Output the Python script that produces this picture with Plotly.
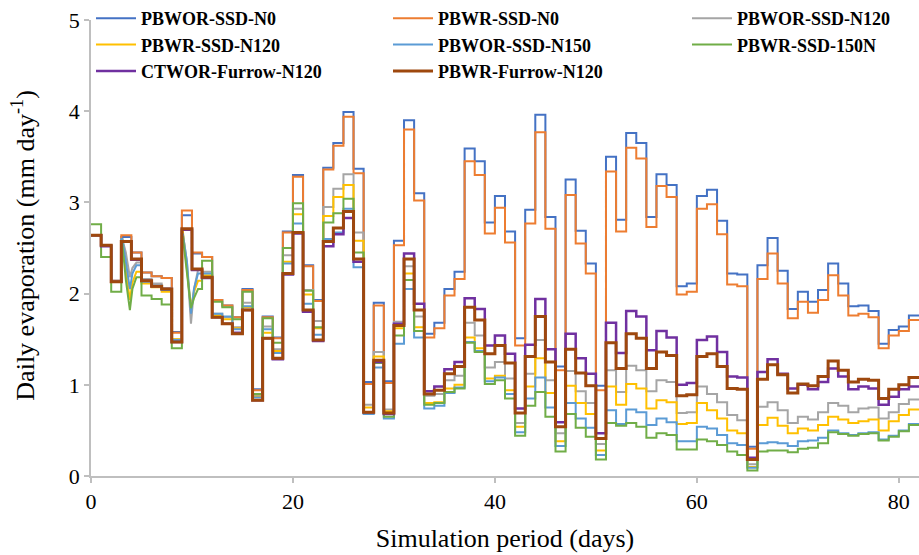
import plotly.graph_objects as go

# Simulated daily soil evaporation (mm day-1) for each treatment, day 0..81
DAYS = list(range(82))

PBWOR_SSD_N0 = [
    2.64, 2.53, 2.14, 2.62, 2.45, 2.23, 2.19, 2.17, 1.58, 2.86,
    2.44, 2.40, 1.93, 1.87, 1.74, 2.05, 0.95, 1.75, 1.52, 2.68,
    3.30, 2.31, 1.93, 3.38, 3.65, 3.99, 3.37, 1.03, 1.90, 1.04,
    2.58, 3.90, 3.10, 1.56, 1.68, 2.05, 2.24, 3.59, 3.45, 2.78,
    3.07, 2.68, 1.51, 2.92, 3.96, 2.84, 1.20, 3.25, 2.69, 2.33,
    0.99, 3.50, 2.81, 3.76, 3.65, 2.84, 3.31, 3.19, 2.08, 2.11,
    3.07, 3.14, 2.80, 2.22, 2.21, 0.32, 2.31, 2.61, 2.25, 1.83,
    2.02, 1.91, 2.04, 2.33, 2.11, 1.86, 1.87, 1.81, 1.45, 1.60,
    1.64, 1.76]

PBWR_SSD_N0 = [
    2.64, 2.53, 2.14, 2.64, 2.45, 2.23, 2.19, 2.17, 1.57, 2.91,
    2.45, 2.40, 1.93, 1.87, 1.74, 2.04, 0.94, 1.74, 1.51, 2.67,
    3.28, 2.30, 1.92, 3.36, 3.62, 3.94, 3.32, 1.01, 1.87, 1.02,
    2.53, 3.80, 3.02, 1.52, 1.62, 1.98, 2.16, 3.45, 3.30, 2.66,
    2.94, 2.56, 1.43, 2.77, 3.77, 2.71, 1.16, 3.08, 2.55, 2.22,
    0.94, 3.34, 2.68, 3.60, 3.48, 2.73, 3.18, 3.06, 1.99, 2.02,
    2.93, 2.98, 2.65, 2.10, 2.08, 0.30, 2.16, 2.44, 2.11, 1.73,
    1.91, 1.79, 1.93, 2.20, 1.98, 1.76, 1.78, 1.74, 1.40, 1.54,
    1.59, 1.71]

PBWOR_SSD_N120 = [
    2.64, 2.53, 2.13, 2.60, 2.34, 2.16, 2.11, 2.06, 1.50, 2.65,
    2.26, 2.24, 1.78, 1.74, 1.63, 1.90, 0.88, 1.64, 1.39, 2.42,
    2.93, 2.04, 1.70, 2.95, 3.15, 3.31, 2.67, 0.78, 1.36, 0.73,
    1.69, 2.30, 1.75, 0.88, 0.90, 1.05, 1.10, 1.68, 1.54, 1.19,
    1.25, 1.07, 0.58, 1.12, 1.49, 1.05, 0.47, 1.15, 0.93, 0.80,
    0.35, 1.16, 0.92, 1.21, 1.16, 0.93, 1.05, 1.03, 0.69, 0.70,
    0.98, 0.90, 0.81, 0.67, 0.61, 0.13, 0.76, 0.81, 0.72, 0.58,
    0.65, 0.62, 0.70, 0.80, 0.77, 0.70, 0.74, 0.75, 0.63, 0.70,
    0.79, 0.84]

PBWR_SSD_N120 = [
    2.64, 2.53, 2.13, 2.60, 2.24, 2.11, 2.07, 2.02, 1.50, 2.68,
    2.14, 2.20, 1.76, 1.72, 1.62, 1.85, 0.87, 1.57, 1.37, 2.35,
    2.87, 1.99, 1.62, 2.85, 3.06, 3.19, 2.58, 0.75, 1.31, 0.71,
    1.62, 2.22, 1.63, 0.80, 0.81, 0.96, 1.00, 1.52, 1.40, 1.07,
    1.10, 0.94, 0.54, 0.98, 1.29, 0.91, 0.38, 0.99, 0.80, 0.68,
    0.28, 0.98, 0.78, 1.01, 0.96, 0.74, 0.83, 0.81, 0.57, 0.58,
    0.80, 0.72, 0.63, 0.50, 0.47, 0.10, 0.56, 0.64, 0.55, 0.47,
    0.52, 0.50, 0.56, 0.65, 0.62, 0.58, 0.60, 0.62, 0.50, 0.60,
    0.67, 0.73]

PBWOR_SSD_N150 = [
    2.64, 2.53, 2.13, 2.60, 2.31, 2.13, 2.09, 2.04, 1.49, 2.65,
    2.22, 2.22, 1.78, 1.75, 1.61, 1.86, 0.86, 1.61, 1.35, 2.33,
    2.77, 1.89, 1.55, 2.60, 2.67, 2.93, 2.29, 0.68, 1.19, 0.63,
    1.45, 2.05, 1.52, 0.74, 0.77, 0.91, 0.97, 1.47, 1.37, 1.04,
    1.08, 0.90, 0.48, 0.85, 1.08, 0.75, 0.33, 0.80, 0.63, 0.53,
    0.23, 0.72, 0.57, 0.73, 0.70, 0.56, 0.63, 0.59, 0.38, 0.38,
    0.54, 0.52, 0.45, 0.36, 0.34, 0.09, 0.36, 0.37, 0.36, 0.33,
    0.38, 0.39, 0.42, 0.50, 0.47, 0.45, 0.47, 0.48, 0.40, 0.44,
    0.50, 0.57]

PBWR_SSD_150N = [
    2.76, 2.40, 2.02, 2.55, 2.18, 1.98, 1.94, 1.88, 1.40, 2.62,
    2.05, 2.36, 1.91, 1.85, 1.72, 2.02, 0.90, 1.73, 1.46, 2.50,
    2.99, 2.03, 1.63, 2.78, 2.88, 3.04, 2.45, 0.70, 1.24, 0.65,
    1.54, 2.15, 1.59, 0.78, 0.80, 0.92, 0.96, 1.46, 1.36, 1.01,
    1.05, 0.85, 0.44, 0.77, 0.92, 0.65, 0.27, 0.68, 0.53, 0.43,
    0.18, 0.58, 0.55, 0.58, 0.54, 0.42, 0.47, 0.45, 0.29, 0.29,
    0.40, 0.38, 0.34, 0.27, 0.23, 0.06, 0.27, 0.28, 0.28, 0.26,
    0.30, 0.31, 0.36, 0.48, 0.46, 0.44, 0.46, 0.47, 0.39, 0.43,
    0.49, 0.56]

CTWOR_FURROW_N120 = [
    2.64, 2.52, 2.13, 2.57, 2.37, 2.14, 2.08, 2.05, 1.47, 2.70,
    2.26, 2.17, 1.74, 1.67, 1.57, 1.82, 0.83, 1.51, 1.28, 2.21,
    2.66, 1.80, 1.48, 2.52, 2.65, 2.83, 2.35, 0.70, 1.25, 0.68,
    1.67, 2.44, 1.89, 0.93, 0.98, 1.17, 1.25, 1.95, 1.83, 1.43,
    1.54, 1.34, 0.74, 1.44, 1.94, 1.39, 0.59, 1.56, 1.29, 1.12,
    0.47, 1.68, 1.35, 1.81, 1.75, 1.38, 1.59, 1.52, 1.00, 1.02,
    1.49, 1.53, 1.36, 1.09, 1.08, 0.20, 1.14, 1.28, 1.12, 0.96,
    1.00, 0.95, 1.03, 1.18, 1.09, 0.95, 0.98, 0.96, 0.78, 0.87,
    0.95, 0.98]

PBWR_FURROW_N120 = [
    2.64, 2.53, 2.13, 2.57, 2.38, 2.14, 2.08, 2.05, 1.47, 2.71,
    2.27, 2.18, 1.74, 1.67, 1.56, 1.82, 0.83, 1.51, 1.29, 2.22,
    2.67, 1.82, 1.49, 2.57, 2.72, 2.90, 2.38, 0.70, 1.27, 0.69,
    1.65, 2.38, 1.82, 0.90, 0.94, 1.12, 1.20, 1.85, 1.71, 1.34,
    1.43, 1.24, 0.69, 1.31, 1.75, 1.25, 0.54, 1.39, 1.13, 0.99,
    0.41, 1.46, 1.18, 1.56, 1.51, 1.18, 1.36, 1.32, 0.88, 0.89,
    1.31, 1.34, 1.20, 0.96, 0.95, 0.18, 1.06, 1.22, 1.11, 0.91,
    1.01, 0.99, 1.09, 1.26, 1.16, 1.03, 1.06, 1.05, 0.85, 0.95,
    1.00, 1.08]

# Sub-daily samples around the two early irrigation events (drip treatments)
IRR1_T = [3.1, 3.45, 3.85, 4.1, 4.5]
IRR2_T = [9.1, 9.5, 9.9, 10.2, 10.6]
IRR_N120_WOR = ([2.60, 2.45, 2.18, 2.28, 2.34], [2.65, 2.35, 1.67, 2.05, 2.26])
IRR_N120_WR = ([2.60, 2.25, 1.93, 2.12, 2.24], [2.68, 2.30, 1.85, 2.02, 2.14])
IRR_N150_WOR = ([2.60, 2.35, 2.05, 2.22, 2.31], [2.65, 2.35, 1.78, 2.05, 2.22])
IRR_150N_WR = ([2.55, 2.15, 1.82, 2.05, 2.18], [2.62, 2.25, 1.84, 1.95, 2.05])

NAMES = ["PBWOR-SSD-N0", "PBWR-SSD-N0", "PBWOR-SSD-N120", "PBWR-SSD-N120",
         "PBWOR-SSD-N150", "PBWR-SSD-150N", "CTWOR-Furrow-N120", "PBWR-Furrow-N120"]
COLORS = ["#4472C4", "#ED7D31", "#A5A5A5", "#FFC000",
          "#5B9BD5", "#70AD47", "#7030A0", "#9E480E"]
WIDTHS = [2, 2, 2, 2, 2, 2, 2.5, 3]
SERIES = [PBWOR_SSD_N0, PBWR_SSD_N0, PBWOR_SSD_N120, PBWR_SSD_N120,
          PBWOR_SSD_N150, PBWR_SSD_150N, CTWOR_FURROW_N120, PBWR_FURROW_N120]
IRRIGATION = [None, None, IRR_N120_WOR, IRR_N120_WR,
              IRR_N150_WOR, IRR_150N_WR, None, None]
# legend column for each series (three columns, filled row by row)
LEGEND_COL = ["legend", "legend2", "legend3", "legend",
              "legend2", "legend3", "legend", "legend2"]


def daily_steps(days, values, irrigation=None):
    """Hold each daily value over its day; splice in sub-daily samples."""
    pts = []
    for d, v in zip(days, values):
        pts.append((d, v))
        pts.append((d + 1, v))
    if irrigation is not None:
        for times, vals in zip((IRR1_T, IRR2_T), irrigation):
            lo, hi = times[0], times[-1]
            pts = [p for p in pts if not (lo <= p[0] <= hi)]
            pts += list(zip(times, vals))
        pts.sort(key=lambda p: p[0])
    return [p[0] for p in pts], [p[1] for p in pts]


fig = go.Figure()
for name, color, width, vals, irr, leg in zip(NAMES, COLORS, WIDTHS, SERIES,
                                             IRRIGATION, LEGEND_COL):
    xs, ys = daily_steps(DAYS, vals, irr)
    fig.add_trace(go.Scatter(
        x=xs, y=ys, mode="lines", name=name, legend=leg, legendgroup=name,
        line=dict(color=color, width=width, shape="linear"),
    ))

axis_color = "#BFBFBF"
legend_font = dict(family="Liberation Serif", size=18, color="black", weight="bold")


def legend_column(x):
    return dict(
        orientation="v", x=x, y=1.044, xanchor="left", yanchor="top",
        font=legend_font, bgcolor="rgba(0,0,0,0)", itemwidth=40,
        tracegroupgap=1.5, traceorder="normal",
    )


fig.update_layout(
    width=919, height=555,
    margin=dict(l=91, r=0, t=19, b=79),
    paper_bgcolor="white", plot_bgcolor="white",
    font=dict(family="Liberation Serif", color="black"),
    showlegend=True,
    legend=legend_column(0.0),
    legend2=legend_column(0.3587),
    legend3=legend_column(0.7198),
    xaxis=dict(
        range=[0, 82], tickvals=[0, 20, 40, 60, 80],
        showline=True, linecolor=axis_color, linewidth=1.5,
        ticks="outside", ticklen=5, tickcolor=axis_color, tickwidth=1.5,
        showgrid=False, zeroline=False,
        tickfont=dict(size=22),
        title=dict(text="Simulation period (days)", font=dict(size=26), standoff=16),
    ),
    yaxis=dict(
        range=[0, 5], dtick=1,
        showline=True, linecolor=axis_color, linewidth=1.5,
        ticks="outside", ticklen=5, tickcolor=axis_color, tickwidth=1.5,
        showgrid=False, zeroline=False,
        tickfont=dict(size=22),
    ),
    annotations=[dict(
        text="Daily evaporation (mm day<sup>-1</sup>)",
        xref="paper", yref="paper", x=-0.081, y=0.505,
        xanchor="center", yanchor="middle", textangle=-90,
        showarrow=False, font=dict(size=26),
    )],
)

fig.write_html("out.html")
